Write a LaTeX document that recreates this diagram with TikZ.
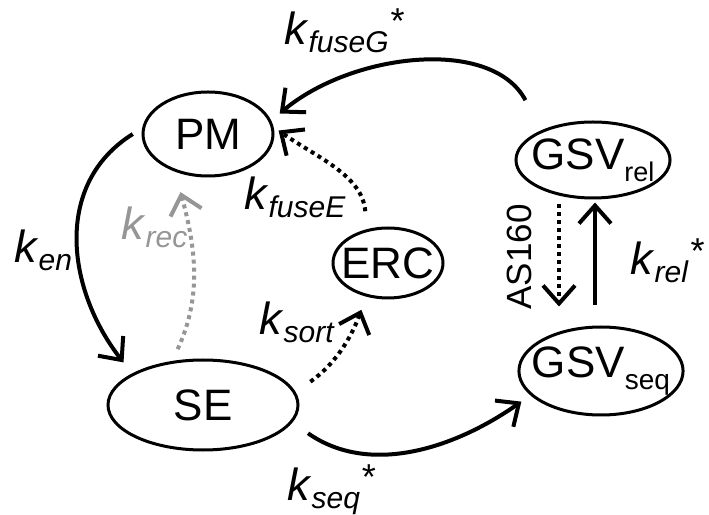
\documentclass[tikz,border=0pt]{standalone}
\usepackage{fontspec}
\setmainfont{Liberation Sans}
\usepackage{xcolor}
\usetikzlibrary{shapes, arrows.meta, positioning}

\definecolor{recgray}{RGB}{150,150,150}
\newcommand{\krate}[2]{\textit{k}\raisebox{-8pt}{\fontsize{30}{31}\selectfont\textit{#1}}#2}
\newcommand{\kstar}{\kern2pt\raisebox{11pt}{\fontsize{36}{36}\selectfont *}}

\tikzset{
	pool/.style={ellipse, draw, line width=3pt, inner sep=0pt, font=\fontsize{44}{48}\selectfont},
	flow/.style={line width=4pt, -{Straight Barb[length=18pt,width=32pt]}},
	dotflow/.style={flow, dash pattern=on 4pt off 4pt},
	rate/.style={anchor=base west, inner sep=0pt, font=\fontsize{45}{48}\selectfont}
}

\begin{document}
\begin{tikzpicture}[x=1pt,y=1pt]
	\useasboundingbox (0,0) rectangle (709,514);
	
	% pools
	\node[pool, minimum width=130pt, minimum height=84pt] (PM) at (208,380) {PM};
	\node[pool, minimum width=190pt, minimum height=90pt] (SE) at (203,109) {SE};
	\node[pool, minimum width=110pt, minimum height=70pt, inner xsep=-8pt] (ERC) at (388,251) {ERC};
	\node[pool, minimum width=154pt, minimum height=76pt, inner xsep=-7pt] (GSVrel) at (593,354) {GSV\raisebox{-12pt}{\fontsize{27}{28}\selectfont rel}};
	\node[pool, minimum width=162pt, minimum height=88pt, inner xsep=-11pt] (GSVseq) at (601,143) {GSV\raisebox{-12pt}{\fontsize{28}{28}\selectfont seq}};
	
	% fluxes
	\draw[flow, shorten <=11pt, shorten >=14pt] (PM.175) to[out=212, in=128, looseness=1.1] (SE.156);
	\draw[flow, shorten <=19pt, shorten >=11pt] (SE.-11) to[out=-35, in=215] (GSVseq.199);
	\draw[flow, shorten <=34pt, shorten >=11pt] (GSVrel.150) to[out=118, in=40] (PM.12);
	\draw[dotflow, shorten <=18pt, shorten >=6pt] (ERC.122) to[out=95, in=-35] (PM.6);
	\draw[dotflow, shorten <=18pt, shorten >=14pt] (SE.8) to[out=35, in=-110] (ERC.237);
	\draw[dotflow, recgray, shorten <=13pt, shorten >=21pt] (SE.125) to[out=65, in=-75] (PM.229);
	\draw[dotflow] ([xshift=-34pt, yshift=-5pt]GSVrel.south) -- ([xshift=-42pt, yshift=19pt]GSVseq.north);
	\draw[flow] ([xshift=-6pt, yshift=20pt]GSVseq.north) -- ([xshift=2pt, yshift=-3pt]GSVrel.south);
	
	% rate labels
	\node[rate] (kfuseG) at (284,469) {\krate{fuseG}{\kstar}};
	\node[rate] (kfuseE) at (244,304) {\krate{fuseE}{}};
	\node[rate, text=recgray] (krec) at (121,274) {\krate{rec}{}};
	\node[rate] (ken) at (14,251) {\krate{en}{}};
	\node[rate] (ksort) at (259,179) {\krate{sort}{}};
	\node[rate] (kseq) at (287,14) {\krate{seq}{\kstar}};
	\node[rate] (krel) at (630,239) {\krate{rel}{\kstar}};
	\node[rotate=90, inner sep=0pt, font=\fontsize{35}{36}\selectfont] (as160) at (519,257) {AS160};
\end{tikzpicture}
\end{document}
